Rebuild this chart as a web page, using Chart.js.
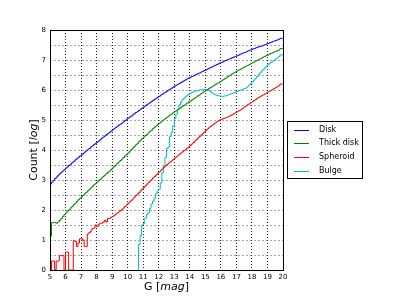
<!DOCTYPE html>
<html>
<head>
<meta charset="utf-8">
<script src="https://cdn.jsdelivr.net/npm/chart.js@4/dist/chart.umd.min.js"></script>
<style>
html, body { margin: 0; padding: 0; background: #fff; }
</style>
</head>
<body>
<canvas id="myChart" width="400" height="300"></canvas>
<script>
// Histogrammes en G (bins de 0.1 mag), valeurs en log10(count)
const binWidth = 0.1;
const gMin = 5, gMax = 20;
const yTicksMax = 8;

const diskStart = 5.0;
const disk = [
  2.80, 2.87, 2.93, 2.99, 3.05, 3.10, 3.16, 3.21, 3.26, 3.30,
  3.35, 3.40, 3.44, 3.49, 3.53, 3.58, 3.62, 3.67, 3.71, 3.76,
  3.80, 3.84, 3.88, 3.93, 3.97, 4.01, 4.05, 4.10, 4.14, 4.18,
  4.22, 4.26, 4.30, 4.34, 4.39, 4.43, 4.47, 4.51, 4.55, 4.59,
  4.63, 4.67, 4.71, 4.75, 4.79, 4.83, 4.86, 4.90, 4.94, 4.98,
  5.02, 5.06, 5.10, 5.13, 5.17, 5.21, 5.25, 5.28, 5.32, 5.36,
  5.40, 5.43, 5.47, 5.51, 5.54, 5.58, 5.62, 5.65, 5.69, 5.72,
  5.76, 5.79, 5.83, 5.86, 5.90, 5.93, 5.96, 6.00, 6.03, 6.06,
  6.10, 6.13, 6.16, 6.19, 6.22, 6.25, 6.28, 6.31, 6.34, 6.37,
  6.40, 6.42, 6.45, 6.47, 6.50, 6.52, 6.55, 6.57, 6.60, 6.62,
  6.65, 6.67, 6.70, 6.72, 6.75, 6.77, 6.80, 6.82, 6.85, 6.87,
  6.90, 6.92, 6.94, 6.97, 6.99, 7.01, 7.03, 7.05, 7.08, 7.10,
  7.12, 7.14, 7.16, 7.19, 7.21, 7.23, 7.25, 7.27, 7.30, 7.32,
  7.34, 7.36, 7.38, 7.40, 7.42, 7.44, 7.45, 7.47, 7.49, 7.51,
  7.53, 7.55, 7.57, 7.59, 7.61, 7.63, 7.65, 7.67, 7.69, 7.72
];

const thickStart = 5.0;
const thickDisk = [
  1.13, 1.13, 1.58, 1.58, 1.58, 1.56, 1.60, 1.66, 1.72, 1.79,
  1.85, 1.90, 1.96, 2.01, 2.07, 2.12, 2.18, 2.23, 2.29, 2.34,
  2.39, 2.44, 2.49, 2.54, 2.59, 2.64, 2.69, 2.74, 2.79, 2.84,
  2.88, 2.93, 2.98, 3.02, 3.07, 3.12, 3.16, 3.21, 3.26, 3.30,
  3.35, 3.40, 3.45, 3.50, 3.55, 3.60, 3.65, 3.70, 3.75, 3.80,
  3.85, 3.90, 3.96, 4.01, 4.06, 4.12, 4.17, 4.22, 4.28, 4.33,
  4.38, 4.43, 4.48, 4.52, 4.57, 4.62, 4.66, 4.71, 4.76, 4.80,
  4.85, 4.89, 4.93, 4.97, 5.01, 5.05, 5.09, 5.13, 5.17, 5.20,
  5.24, 5.28, 5.31, 5.35, 5.38, 5.42, 5.46, 5.49, 5.53, 5.56,
  5.60, 5.63, 5.67, 5.70, 5.74, 5.77, 5.81, 5.84, 5.88, 5.91,
  5.95, 5.98, 6.01, 6.05, 6.08, 6.11, 6.14, 6.18, 6.21, 6.24,
  6.27, 6.30, 6.34, 6.37, 6.40, 6.44, 6.47, 6.50, 6.54, 6.57,
  6.60, 6.63, 6.66, 6.68, 6.71, 6.74, 6.77, 6.80, 6.82, 6.85,
  6.88, 6.91, 6.93, 6.96, 6.99, 7.02, 7.04, 7.07, 7.10, 7.12,
  7.15, 7.17, 7.20, 7.22, 7.24, 7.27, 7.29, 7.31, 7.33, 7.38
];

const spheroidStart = 5.0;
const spheroid = [
  0.00, 0.00, 0.30, 0.30, 0.00, 0.30, 0.30, 0.48, 0.48, 0.48,
  0.00, 0.60, 0.60, 0.00, 0.00, 0.00, 0.98, 0.95, 0.78, 0.90,
  1.04, 1.04, 1.00, 0.78, 0.78, 1.20, 1.25, 1.30, 1.38, 1.40,
  1.50, 1.45, 1.52, 1.56, 1.56, 1.60, 1.66, 1.60, 1.72, 1.72,
  1.76, 1.78, 1.82, 1.86, 1.90, 1.93, 1.98, 2.02, 2.07, 2.12,
  2.17, 2.22, 2.27, 2.32, 2.37, 2.43, 2.48, 2.53, 2.58, 2.64,
  2.70, 2.75, 2.80, 2.86, 2.91, 2.96, 3.01, 3.07, 3.12, 3.17,
  3.22, 3.27, 3.32, 3.37, 3.42, 3.47, 3.51, 3.56, 3.60, 3.64,
  3.68, 3.73, 3.77, 3.81, 3.86, 3.90, 3.94, 3.98, 4.02, 4.06,
  4.10, 4.15, 4.20, 4.25, 4.30, 4.35, 4.40, 4.45, 4.50, 4.55,
  4.60, 4.65, 4.70, 4.74, 4.78, 4.82, 4.86, 4.90, 4.94, 4.97,
  5.00, 5.02, 5.04, 5.06, 5.08, 5.10, 5.12, 5.15, 5.18, 5.21,
  5.24, 5.27, 5.30, 5.33, 5.36, 5.40, 5.44, 5.47, 5.51, 5.54,
  5.58, 5.61, 5.65, 5.68, 5.72, 5.75, 5.78, 5.81, 5.84, 5.87,
  5.90, 5.93, 5.96, 5.99, 6.02, 6.05, 6.08, 6.11, 6.14, 6.20
];

const bulgeStart = 10.7;
const bulge = [
  0.00,
  0.85, 1.15, 1.50, 1.55, 1.72, 1.85, 1.90, 2.05, 2.20, 2.30,
  2.40, 2.55, 2.65, 2.70, 2.90, 3.25, 3.45, 3.75, 4.05, 4.10,
  4.45, 4.60, 4.80, 5.05, 5.20, 5.35, 5.50, 5.60, 5.68, 5.72,
  5.78, 5.82, 5.86, 5.89, 5.92, 5.94, 5.96, 5.97, 5.98, 6.00,
  6.01, 6.02, 6.02, 6.02, 6.00, 5.98, 5.94, 5.90, 5.87, 5.84,
  5.82, 5.81, 5.80, 5.79, 5.79, 5.80, 5.81, 5.83, 5.85, 5.87,
  5.89, 5.91, 5.93, 5.95, 5.97, 5.99, 6.01, 6.03, 6.05, 6.07,
  6.12, 6.17, 6.22, 6.27, 6.33, 6.39, 6.45, 6.51, 6.57, 6.63,
  6.69, 6.74, 6.79, 6.84, 6.88, 6.92, 6.96, 6.99, 7.03, 7.07,
  7.11, 7.17
];

const seriesLabels = ['Disk', 'Thick disk', 'Spheroid', 'Bulge'];
const seriesColors = ['#0000ff', '#008000', '#ff0000', '#00bfbf'];

// bins -> points en escalier (bord gauche de chaque bin + bord droit final)
function toSteps(start, values) {
  const pts = values.map(function(v, i) {
    return { x: +(start + i * binWidth).toFixed(2), y: v };
  });
  pts.push({ x: gMax, y: values[values.length - 1] });
  return pts;
}

// Titres d'axes avec partie en italique
const axisTitles = {
  id: 'axisTitles',
  afterDraw(chart) {
    const ctx = chart.ctx;
    const area = chart.chartArea;
    function parts(list, size) {
      return list.map(function(p) {
        return { t: p[0], f: (p[1] ? 'italic ' : '') + size + 'px "DejaVu Sans"' };
      });
    }
    function drawParts(pp, cx, cy) {
      let w = 0;
      pp.forEach(function(p) { ctx.font = p.f; w += ctx.measureText(p.t).width; });
      let x = cx - w / 2;
      pp.forEach(function(p) {
        ctx.font = p.f;
        ctx.fillText(p.t, x, cy);
        x += ctx.measureText(p.t).width;
      });
    }
    ctx.save();
    ctx.fillStyle = '#000';
    ctx.textBaseline = 'alphabetic';
    drawParts(parts([['G [', 0], ['mag', 1], [']', 0]], 11), (area.left + area.right) / 2, 290);
    ctx.translate(37, (area.top + area.bottom) / 2);
    ctx.rotate(-Math.PI / 2);
    drawParts(parts([['Count [', 0], ['log', 1], [']', 0]], 11), 0, 0);
    ctx.restore();
  }
};

// Cadre du graphique + légende encadrée à droite
const frameLegend = {
  id: 'frameLegend',
  afterDraw(chart) {
    const ctx = chart.ctx;
    const a = chart.chartArea;
    ctx.save();
    ctx.strokeStyle = '#000';
    ctx.lineWidth = 1;
    ctx.strokeRect(Math.round(a.left) + 0.5, Math.round(a.top) + 0.5,
                   Math.round(a.right - a.left), Math.round(a.bottom - a.top));

    const lx = 287, ly = 121, lw = 75, lh = 57;
    ctx.fillStyle = '#fff';
    ctx.fillRect(lx, ly, lw, lh);
    ctx.strokeRect(lx + 0.5, ly + 0.5, lw, lh);
    ctx.font = '8px "DejaVu Sans"';
    ctx.textBaseline = 'middle';
    chart.data.datasets.forEach(function(ds, i) {
      const y = ly + 8.5 + i * 13.8;
      ctx.strokeStyle = ds.borderColor;
      ctx.beginPath();
      ctx.moveTo(lx + 7, Math.round(y) + 0.5);
      ctx.lineTo(lx + 22, Math.round(y) + 0.5);
      ctx.stroke();
      ctx.fillStyle = '#000';
      ctx.fillText(ds.label, lx + 32, y);
    });
    ctx.restore();
  }
};

const starts = [diskStart, thickStart, spheroidStart, bulgeStart];
const values = [disk, thickDisk, spheroid, bulge];

const ctx = document.getElementById('myChart').getContext('2d');
new Chart(ctx, {
  type: 'line',
  data: {
    datasets: seriesLabels.map(function(label, i) {
      return {
        label: label,
        data: toSteps(starts[i], values[i]),
        borderColor: seriesColors[i],
        borderWidth: 1,
        stepped: 'after',
        pointRadius: 0,
        fill: false
      };
    })
  },
  options: {
    responsive: false,
    animation: false,
    devicePixelRatio: 1,
    layout: { padding: { left: 0, right: 117, top: 30, bottom: 0 } },
    plugins: {
      legend: { display: false },
      tooltip: { enabled: false }
    },
    scales: {
      x: {
        type: 'linear',
        min: gMin,
        max: gMax,
        afterFit: function(scale) { scale.height = 30; },
        ticks: {
          stepSize: 1,
          maxRotation: 0,
          padding: 3,
          color: '#000',
          font: { family: 'DejaVu Sans', size: 7 }
        },
        grid: { color: '#222', lineWidth: 1, drawTicks: false },
        border: { display: false, dash: [1, 2] }
      },
      y: {
        min: 0,
        max: yTicksMax,
        afterFit: function(scale) { scale.width = 50; },
        ticks: {
          stepSize: 0.5,
          padding: 4,
          color: '#000',
          font: { family: 'DejaVu Sans', size: 7 },
          callback: function(v) { return Number.isInteger(v) ? String(v) : ''; }
        },
        grid: { color: 'rgba(0,0,0,0.35)', lineWidth: 1, drawTicks: false },
        border: { display: false, dash: [2, 2] }
      }
    }
  },
  plugins: [axisTitles, frameLegend]
});
</script>
</body>
</html>
